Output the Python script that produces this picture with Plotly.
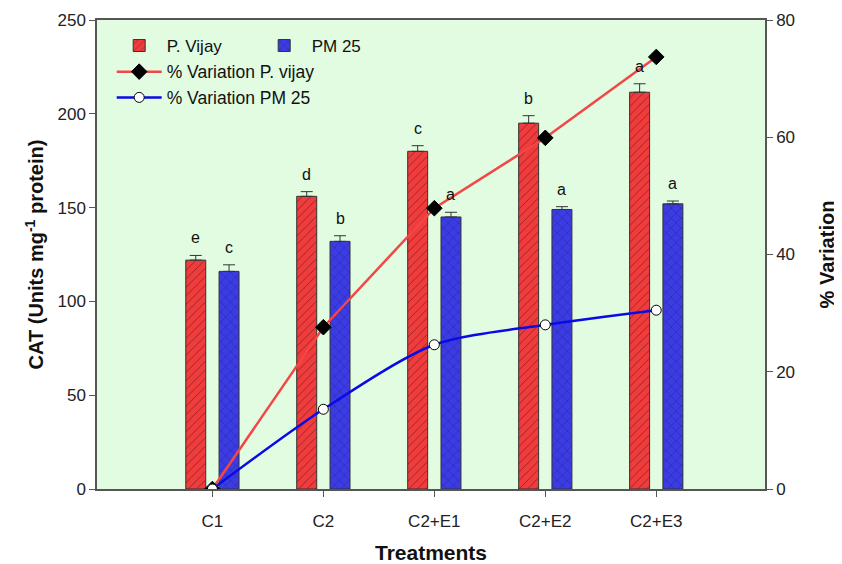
import plotly.graph_objects as go

categories = ["C1", "C2", "C2+E1", "C2+E2", "C2+E3"]
vijay_cat = [122, 156, 180, 195, 211.5]
vijay_err = [2.5, 2.5, 3, 4, 4.5]
pm25_cat = [116, 132, 145, 149, 152]
pm25_err = [3.5, 3, 2.5, 1.5, 1.5]
vijay_letters = ["e", "d", "c", "b", "a"]
pm25_letters = ["c", "b", "a", "a", "a"]
var_vijay = [0, 27.6, 47.9, 59.9, 73.7]
var_pm25 = [0, 13.6, 24.6, 28.0, 30.5]

x = list(range(len(categories)))
FONT = "Arial, Liberation Sans, sans-serif"
RED = "#f03c3c"
BLUE = "#3c3ce6"
BW = 0.18
RED_OFF = -0.24
BLUE_OFF = 0.06

fig = go.Figure()
fig.add_trace(go.Bar(
    x=x, y=vijay_cat, name="P. Vijay", width=BW, offset=RED_OFF,
    marker=dict(color=RED, line=dict(color="#333333", width=1),
                pattern=dict(shape="/", fgcolor="#3a0a0a", bgcolor=RED, size=6, solidity=0.15)),
    error_y=dict(type="data", array=vijay_err, arrayminus=[0]*5, symmetric=False,
                 color="#333333", thickness=1, width=6),
    legend="legend",
))
fig.add_trace(go.Bar(
    x=x, y=pm25_cat, name="PM 25", width=BW, offset=BLUE_OFF,
    marker=dict(color=BLUE, line=dict(color="#333333", width=1),
                pattern=dict(shape="x", fgcolor="#101040", bgcolor=BLUE, size=7, solidity=0.15)),
    error_y=dict(type="data", array=pm25_err, arrayminus=[0]*5, symmetric=False,
                 color="#333333", thickness=1, width=6),
    legend="legend",
))
fig.add_trace(go.Scatter(
    x=x, y=var_vijay, name="% Variation P. vijay", yaxis="y2", mode="lines+markers",
    line=dict(color="#f44646", width=2.5),
    marker=dict(symbol="diamond", size=12, color="black", line=dict(color="black", width=1)),
    legend="legend2",
))
fig.add_trace(go.Scatter(
    x=x, y=var_pm25, name="% Variation PM 25", yaxis="y2", mode="lines+markers",
    line=dict(color="#0a0ae6", width=2.5, shape="spline", smoothing=0.8),
    marker=dict(symbol="circle", size=10, color="white", line=dict(color="black", width=1)),
    legend="legend2",
))

annotations = []
for i in x:
    for vals, errs, letters, off in ((vijay_cat, vijay_err, vijay_letters, RED_OFF),
                                     (pm25_cat, pm25_err, pm25_letters, BLUE_OFF)):
        annotations.append(dict(
            x=i + off + BW / 2, y=vals[i] + errs[i], xref="x", yref="y",
            text=letters[i], showarrow=False, yanchor="bottom", yshift=7,
            font=dict(family=FONT, size=16, color="#111111"),
        ))

axis_common = dict(
    showline=True, linecolor="#555555", linewidth=1.5, ticks="outside", ticklen=6,
    tickcolor="#555555", tickfont=dict(family=FONT, size=17, color="#222222"),
    showgrid=False, zeroline=False, automargin=False,
)
fig.update_layout(
    width=834, height=556,
    margin=dict(l=89, r=77, t=12, b=75),
    paper_bgcolor="white", plot_bgcolor="#e1fce1",
    font=dict(family=FONT),
    annotations=annotations,
    xaxis=dict(**axis_common, range=[-1.04, 4.98], tickmode="array", tickvals=x,
               ticktext=categories, mirror=True, ticklabelstandoff=10,
               title=dict(text="<b>Treatments</b>", font=dict(family=FONT, size=21, color="#111111"),
                          standoff=16)),
    yaxis=dict(**axis_common, range=[0, 250], tickvals=[0, 50, 100, 150, 200, 250],
               title=dict(text="<b>CAT (Units mg<sup>-1</sup> protein)</b>",
                          font=dict(family=FONT, size=20, color="#111111"), standoff=8)),
    yaxis2=dict(**axis_common, range=[0, 80], tickvals=[0, 20, 40, 60, 80], overlaying="y",
                side="right",
                title=dict(text="<b>% Variation</b>", font=dict(family=FONT, size=20, color="#111111"),
                           standoff=26)),
    legend=dict(orientation="h", x=0.022, y=0.983, xanchor="left", yanchor="top",
                bgcolor="rgba(0,0,0,0)", font=dict(family=FONT, size=17, color="#111111"),
                traceorder="normal", itemwidth=45, entrywidth=85),
    legend2=dict(orientation="v", x=0.022, y=0.928, xanchor="left", yanchor="top",
                 bgcolor="rgba(0,0,0,0)", font=dict(family=FONT, size=17.5, color="#111111"),
                 tracegroupgap=0, itemwidth=45),
    showlegend=True,
)
fig.write_html("out.html")
